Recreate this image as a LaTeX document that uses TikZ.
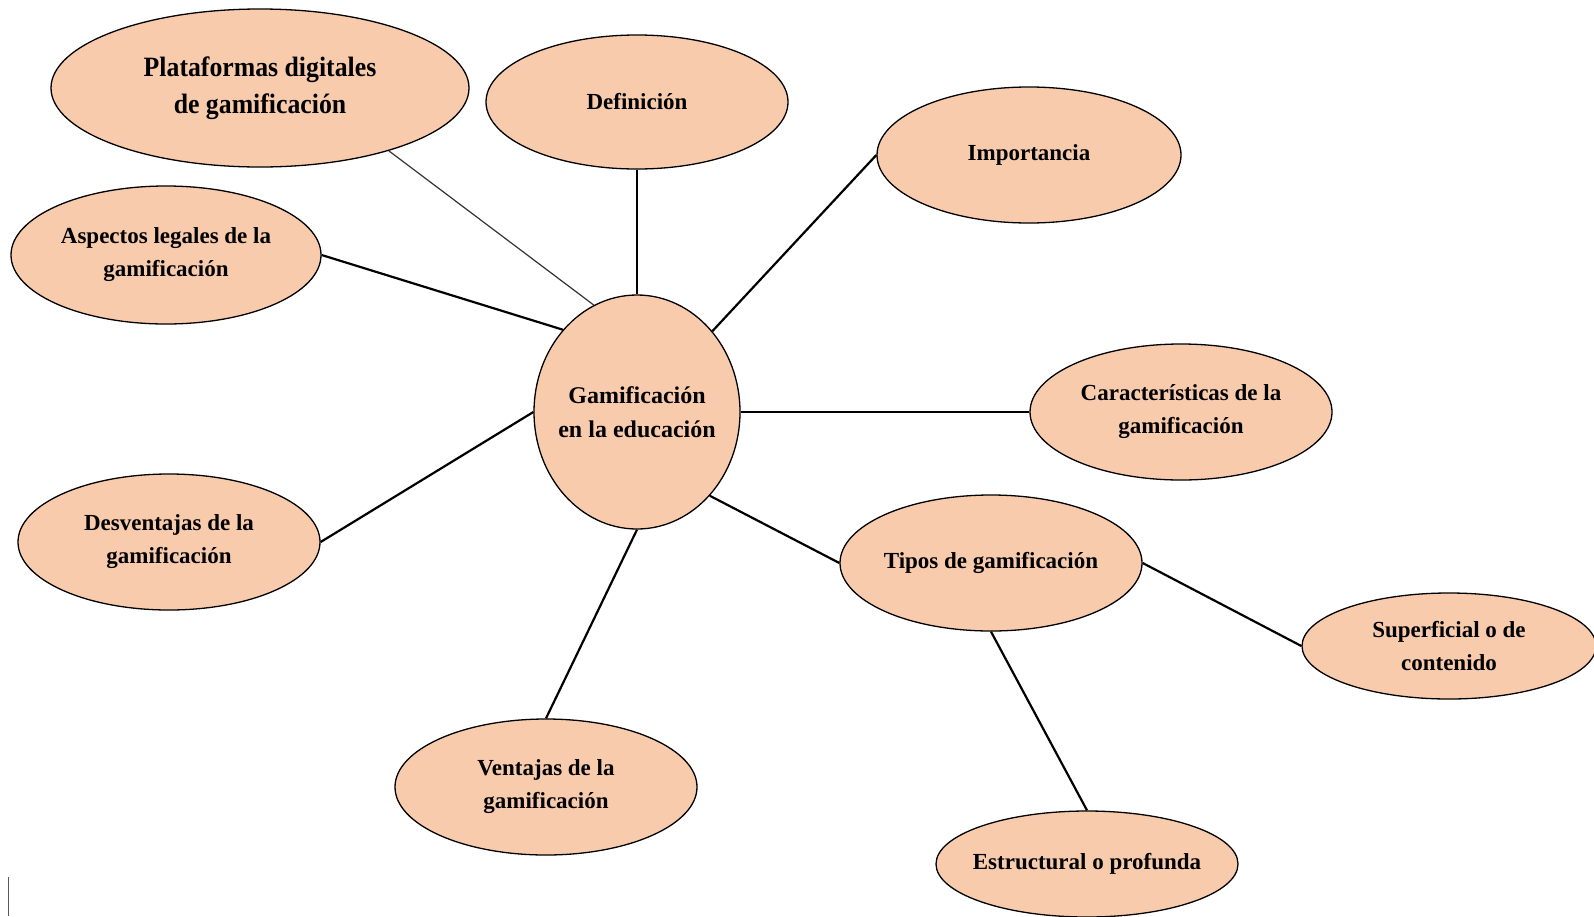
\documentclass[tikz,border=0pt]{standalone}
\usepackage{fontspec}
\setmainfont{Liberation Serif}
\newfontfamily\platfont[FakeStretch=0.92]{Liberation Serif}
\usetikzlibrary{shapes.geometric}
\definecolor{peach}{HTML}{F8CBAD}
\tikzset{
  bubble/.style={ellipse, draw=black, line width=1.3pt, fill=peach, inner ysep=0pt, inner xsep=-25pt,
    align=center, font=\bfseries\fontsize{23}{33}\selectfont},
  link/.style={draw=black, line width=2.2pt},
  thinlink/.style={draw=black!80, line width=1.2pt}
}
\begin{document}
\begin{tikzpicture}[x=1pt,y=-1pt]
\useasboundingbox (0,0) rectangle (1594,916);
\node[bubble, minimum width=418pt, minimum height=158pt, font=\platfont\bfseries\fontsize{28}{37}\selectfont] (plat) at (260,88) {Plataformas digitales\\de gamificación};
\node[bubble, minimum width=302pt, minimum height=134pt] (def) at (637,102) {Definición};
\node[bubble, minimum width=304pt, minimum height=136pt] (imp) at (1029,155) {Importancia};
\node[bubble, minimum width=310pt, minimum height=138pt] (asp) at (166,255) {Aspectos legales de la\\gamificación};
\node[bubble, minimum width=206pt, minimum height=234pt, font=\bfseries\fontsize{24}{34}\selectfont] (gam) at (637,412) {Gamificación\\en la educación};
\node[bubble, minimum width=302pt, minimum height=136pt] (car) at (1181,412) {Características de la\\gamificación};
\node[bubble, minimum width=302pt, minimum height=136pt] (des) at (169,542) {Desventajas de la\\gamificación};
\node[bubble, minimum width=302pt, minimum height=136pt] (tip) at (991,563) {Tipos de gamificación};
\node[bubble, minimum width=294pt, minimum height=106pt] (sup) at (1449,646) {Superficial o de\\contenido};
\node[bubble, minimum width=302pt, minimum height=136pt] (ven) at (546,787) {Ventajas de la\\gamificación};
\node[bubble, minimum width=302pt, minimum height=106pt] (est) at (1087,864) {Estructural o profunda};

\draw[thinlink] (plat.-26) -- (gam.112);
\draw[link] (def.south) -- (gam.north);
\draw[link] (imp.west) -- (gam.47);
\draw[link] (asp.east) -- (gam.132);
\draw[link] (gam.east) -- (car.west);
\draw[link] (des.east) -- (gam.west);
\draw[link] (gam.-49) -- (tip.west);
\draw[link] (ven.north) -- (gam.south);
\draw[link] (tip.east) -- (sup.west);
\draw[link] (tip.south) -- (est.north);

\draw[black!65, line width=1.5pt] (8.5,877) -- (8.5,916);
\end{tikzpicture}
\end{document}
